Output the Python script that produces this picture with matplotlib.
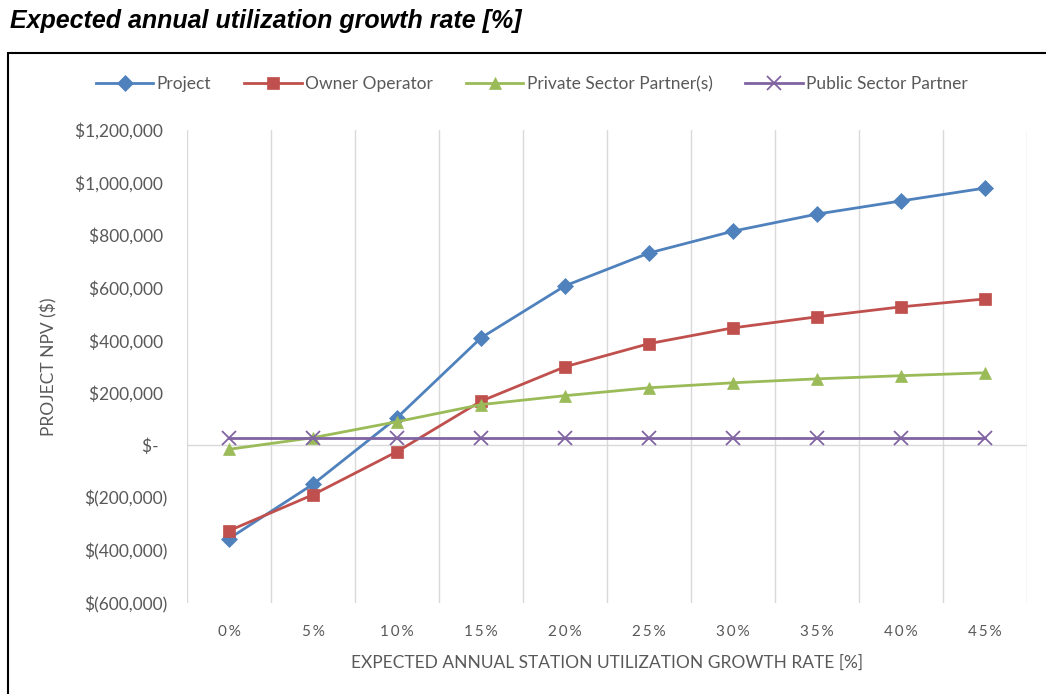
import numpy as np
import matplotlib
matplotlib.use("Agg")
import matplotlib.pyplot as plt
import matplotlib.patches as patches
from matplotlib.ticker import FuncFormatter, FixedLocator

# data
growth_labels = ["0%", "5%", "10%", "15%", "20%", "25%", "30%", "35%", "40%", "45%"]
project = [-355000, -148000, 105000, 409000, 607000, 732000, 815000, 880000, 930000, 979000]
owner_operator = [-325000, -188000, -24000, 168000, 299000, 387000, 447000, 489000, 527000, 557000]
private_partner = [-15000, 29000, 90000, 155000, 189000, 219000, 238000, 253000, 265000, 276000]
public_partner = [27000, 27000, 27000, 27000, 27000, 27000, 27000, 27000, 27000, 27000]

series_names = ["Project", "Owner Operator", "Private Sector Partner(s)", "Public Sector Partner"]
series_colours = ["#4F81BD", "#C0504D", "#9BBB59", "#8064A2"]
series_markers = ["D", "s", "^", "x"]

text_grey = "#595959"
grid_grey = "#D9D9D9"
font = "Lato"


def accounting(v, pos):
    if abs(v) < 1:
        return "$-  "
    if v < 0:
        return f"$({abs(v):,.0f})"
    return f"${v:,.0f} "


def spaced(s):
    # excel draws these tick labels with wide letter spacing
    return "\u2009".join(s)


fig = plt.figure(figsize=(10.46, 6.94), dpi=100)
fig.patch.set_facecolor("white")

fig.text(10 / 1046, 1 - 21 / 694, "Expected annual utilization growth rate [%]",
         fontsize=18, fontweight="bold", fontstyle="italic", family="Liberation Sans",
         va="center", ha="left", color="black")

# chart border (runs off the right and bottom edges)
border = patches.Rectangle((8 / 1046, -0.05), 1.2, 1 - 53 / 694 + 0.05, transform=fig.transFigure,
                           fill=False, edgecolor="black", linewidth=1.5)
fig.patches.append(border)

ax = fig.add_axes([187 / 1046, 1 - 603 / 694, 840 / 1046, 473 / 694])
x = np.arange(len(growth_labels))

all_series = [project, owner_operator, private_partner, public_partner]
for vals, name, col, mk in zip(all_series, series_names, series_colours, series_markers):
    ms = 10 if mk == "x" else (8 if mk == "D" else 8.5)
    ax.plot(x, vals, color=col, marker=mk, markersize=ms, linewidth=2.0,
            markeredgewidth=1.3 if mk == "x" else 0.5, label=name, zorder=3)

ax.set_xlim(-0.5, len(growth_labels) - 0.5)
ax.set_ylim(-600000, 1200000)
ax.set_yticks(np.arange(-600000, 1200001, 200000))
ax.yaxis.set_major_formatter(FuncFormatter(accounting))
ax.set_xticks(x)
ax.set_xticklabels([spaced(g) for g in growth_labels])
ax.xaxis.set_minor_locator(FixedLocator(np.arange(-0.5, len(growth_labels), 1.0)))

ax.grid(False)
ax.grid(True, which="minor", axis="x", color=grid_grey, linewidth=1.0, zorder=0)
ax.axhline(0, color=grid_grey, linewidth=1.0, zorder=1)

for s in ax.spines.values():
    s.set_visible(False)

ax.tick_params(axis="both", which="both", length=0)
ax.tick_params(axis="y", labelsize=12.5, labelcolor=text_grey, pad=14)
ax.tick_params(axis="x", labelsize=11, labelcolor=text_grey, pad=16)
for lbl in ax.get_yticklabels() + ax.get_xticklabels():
    lbl.set_family(font)

ax.set_ylabel("PROJECT NPV ($)", fontsize=12.5, color=text_grey, family=font, labelpad=13)
ax.set_xlabel("EXPECTED ANNUAL STATION UTILIZATION GROWTH RATE [%]", fontsize=12.5,
              color=text_grey, family=font, labelpad=11)

leg = fig.legend(loc="center", bbox_to_anchor=(532 / 1046, 1 - 84 / 694), ncol=4,
                 frameon=False, handlelength=3.3, columnspacing=1.9, handletextpad=0.2,
                 prop={"family": font, "size": 12.5})
for t in leg.get_texts():
    t.set_color(text_grey)

fig.savefig("out.png", dpi=100)
